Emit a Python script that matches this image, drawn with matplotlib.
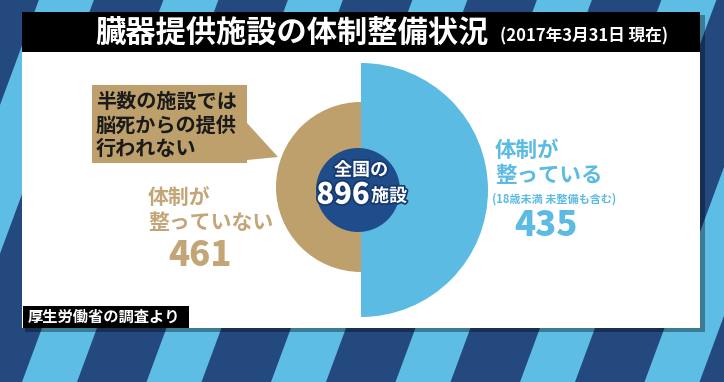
import matplotlib
matplotlib.use("Agg")
import matplotlib.pyplot as plt
from matplotlib.patches import Wedge, Circle, Rectangle, Polygon
import matplotlib.patheffects as pe

plt.rcParams['font.family'] = ['Noto Sans CJK JP', 'DejaVu Sans']

# ---- data ----
title = "臓器提供施設の体制整備状況"
date_note = "(2017年3月31日 現在)"
categories = ["体制が\n整っていない", "体制が\n整っている"]
counts = [461, 435]
sub_note = "(18歳未満 未整備も含む)"
callout = "半数の施設では\n脳死からの提供\n行われない"
source = "厚生労働省の調査より"
total = sum(counts)

# ---- style ----
NAVY = "#23497f"
LIGHT = "#5dbde4"
BLUE = "#5cbbe3"
TAN = "#bea06c"
TAN_TXT = "#c2a677"
CIRC = "#1f4c8a"

W, H = 724, 382
fig = plt.figure(figsize=(W / 100, H / 100), dpi=100)
ax = fig.add_axes([0, 0, 1, 1])
ax.set_xlim(0, W)
ax.set_ylim(H, 0)
ax.axis("off")

# striped background
ax.add_patch(Rectangle((0, 0), W, H, color=NAVY, zorder=0))
slope = 0.37
for k in range(-3, 9):
    x0 = 37 + 124.5 * k
    pts = [(x0 + slope * 5, 0), (x0 + 55 + slope * 5, 0),
           (x0 + 55 - slope * (H - 5), H), (x0 - slope * (H - 5), H)]
    ax.add_patch(Polygon(pts, closed=True, color=LIGHT, zorder=1, lw=0))

# panel shadow + panel
ax.add_patch(Rectangle((25, 15), 680, 317, color="black", alpha=0.35, zorder=2, lw=0))
ax.add_patch(Rectangle((22, 52), 678, 276, color="white", zorder=3, lw=0))
ax.add_patch(Rectangle((22, 12), 678, 40, color="black", zorder=3, lw=0))

# title
ax.text(95, 33, title, fontsize=21.8, fontweight="bold", color="white",
        ha="left", va="center", zorder=5)
ax.text(500, 36, date_note, fontsize=12, fontweight="bold", color="white",
        ha="left", va="center", zorder=5)

# half-circle chart
cx = 361
ax.add_patch(Wedge((cx, 187), 85, 90, 270, color=TAN, lw=0, zorder=4))
ax.add_patch(Wedge((cx, 190), 127, 270, 90, color=BLUE, lw=0, zorder=4))
ax.add_patch(Circle((358, 190), 42, color=CIRC, lw=0, zorder=5))

stroke = [pe.withStroke(linewidth=2.5, foreground="#163a6e")]
ax.text(361, 170, "全国の", fontsize=13, fontweight="bold", color="white",
        ha="center", va="center", zorder=6, path_effects=stroke)
ax.text(343, 195, f"{total}", fontsize=21, fontweight="heavy", color="white",
        ha="center", va="center", zorder=6, path_effects=stroke)
ax.text(389, 196, "施設", fontsize=13, fontweight="bold", color="white",
        ha="center", va="center", zorder=6, path_effects=stroke)

# left labels
ax.text(148, 210, categories[0], fontsize=15, fontweight="bold", color=TAN_TXT,
        ha="left", va="center", linespacing=1.25, zorder=6)
ax.text(200, 255, f"{counts[0]}", fontsize=25, fontweight="heavy", color=TAN_TXT,
        ha="center", va="center", zorder=6)

# right labels
ax.text(495, 163, categories[1], fontsize=15.5, fontweight="bold", color=BLUE,
        ha="left", va="center", linespacing=1.25, zorder=6)
ax.text(492, 199, sub_note, fontsize=8, fontweight="bold", color=BLUE,
        ha="left", va="center", zorder=6)
ax.text(546, 226, f"{counts[1]}", fontsize=25, fontweight="heavy", color=BLUE,
        ha="center", va="center", zorder=6)

# callout
box = [(92, 85), (247, 85), (247, 123), (278, 157), (247, 160), (247, 163), (92, 163)]
ax.add_patch(Polygon(box, closed=True, color=TAN, lw=0, zorder=5))
ax.text(96, 125, callout, fontsize=14.5, fontweight="bold", color="#1a1a1a",
        ha="left", va="center", linespacing=1.15, zorder=6)

# source
ax.add_patch(Rectangle((23, 306), 166, 22, color="black", zorder=6, lw=0))
ax.text(28, 317, source, fontsize=11, fontweight="bold", color="white",
        ha="left", va="center", zorder=7)

fig.savefig("out.png", dpi=100)
